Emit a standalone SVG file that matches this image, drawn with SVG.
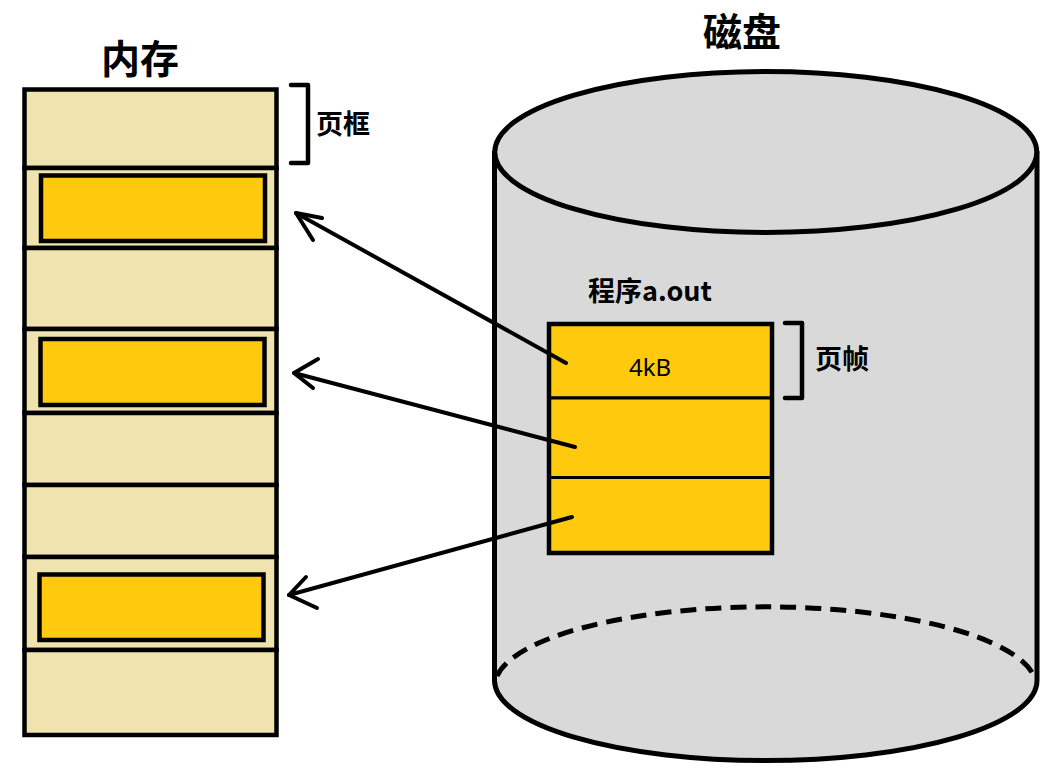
<svg xmlns="http://www.w3.org/2000/svg" width="1055" height="768" viewBox="0 0 1055 768">
<style>
.frame{fill:#EFE4B0;stroke:#000;stroke-width:4.5}
.page{fill:#FFC90E;stroke:#000;stroke-width:4.5}
.dpage{fill:#FFC90E;stroke:#000;stroke-width:3}
.box{fill:none;stroke:#000;stroke-width:4.5}
.brk{fill:none;stroke:#000;stroke-width:4.5;stroke-linecap:round;stroke-linejoin:round}
.arrow{fill:none;stroke:#000;stroke-width:4;stroke-linecap:round;stroke-linejoin:round}
.cyl{fill:#D9D9D9;stroke:none}
.cyls{fill:none;stroke:#000;stroke-width:5}
.title{font-family:"Noto Sans CJK SC","Noto Sans",sans-serif;font-weight:bold;fill:#000}
.lbl{font-family:"Noto Sans","Noto Sans CJK SC",sans-serif;fill:#000}
</style>
<g id="title-memory"><text class="title" x="140" y="73" font-size="39" text-anchor="middle">内存</text></g>
<g id="title-disk"><text class="title" x="742" y="46" font-size="39" text-anchor="middle">磁盘</text></g>
<g id="memory">
<g id="frame1"><rect class="frame" x="24.5" y="89.5" width="252" height="78.5"/></g>
<g id="frame2"><rect class="frame" x="24.5" y="168" width="252" height="80"/><rect class="page" x="41" y="175.5" width="224" height="65.5"/></g>
<g id="frame3"><rect class="frame" x="24.5" y="248" width="252" height="81"/></g>
<g id="frame4"><rect class="frame" x="24.5" y="329" width="252" height="84"/><rect class="page" x="40.5" y="339" width="224" height="66"/></g>
<g id="frame5"><rect class="frame" x="24.5" y="413" width="252" height="72"/></g>
<g id="frame6"><rect class="frame" x="24.5" y="485" width="252" height="72"/></g>
<g id="frame7"><rect class="frame" x="24.5" y="557" width="252" height="93"/><rect class="page" x="39.5" y="574.5" width="224" height="65.5"/></g>
<g id="frame8"><rect class="frame" x="24.5" y="650" width="252" height="85"/></g>
</g>
<g id="label-frame"><polyline class="brk" points="291,85 308,85 308,163 291,163"/><text class="title" x="316" y="134" font-size="27">页框</text></g>
<g id="disk">
<path class="cyl" d="M494.5,151 L494.5,680.5 A271,80 0 0 0 1037,680.5 L1037,151 Z"/>
<path class="cyls" d="M494.5,151 L494.5,680.5 A271,80 0 0 0 1037,680.5 L1037,151"/>
<path class="cyls" d="M497,676 A271,80 0 0 1 1034,676" stroke-dasharray="16 9" stroke-width="4.5"/>
<ellipse cx="765.75" cy="152" rx="271" ry="80.5" fill="#D9D9D9" stroke="#000" stroke-width="5"/>
</g>
<g id="program">
<text class="title" x="588" y="301" font-size="27">程序a.out</text>
<g id="dpage1"><rect class="dpage" x="549" y="324" width="223" height="74"/><text class="lbl" x="650" y="376" font-size="24" text-anchor="middle">4kB</text></g>
<g id="dpage2"><rect class="dpage" x="549" y="398" width="223" height="79.5"/></g>
<g id="dpage3"><rect class="dpage" x="549" y="477.5" width="223" height="75.5"/></g>
<rect class="box" x="549" y="324" width="223" height="229"/>
</g>
<g id="label-page"><polyline class="brk" points="785,323 802,323 802,398 785,398"/><text class="title" x="815" y="369" font-size="27">页帧</text></g>
<g id="connectors">
<g id="a1"><line class="arrow" x1="566" y1="363" x2="296" y2="213"/><polyline class="arrow" points="322,218 296,213 313,240"/></g>
<g id="a2"><line class="arrow" x1="575" y1="447" x2="294" y2="373"/><polyline class="arrow" points="318,359 294,373 313,388"/></g>
<g id="a3"><line class="arrow" x1="572" y1="517" x2="289" y2="595"/><polyline class="arrow" points="306,577 289,595 317,608"/></g>
</g>
</svg>
